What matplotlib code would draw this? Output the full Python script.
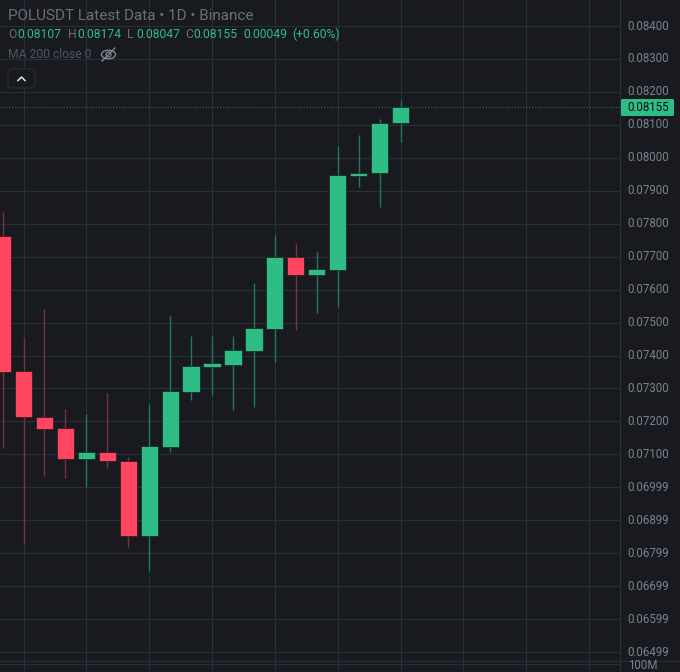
import matplotlib
matplotlib.use('Agg')
import matplotlib.pyplot as plt
from matplotlib.patches import Ellipse, FancyBboxPatch

plt.rcParams['font.family'] = ['Roboto', 'DejaVu Sans']

opens = [0.07763, 0.07353, 0.07213, 0.07180, 0.07086, 0.07107, 0.07080, 0.06852, 0.07122, 0.07289,
         0.07365, 0.07371, 0.07414, 0.07480, 0.07699, 0.07644, 0.07660, 0.07945, 0.07954, 0.08107]
highs = [0.07836, 0.07456, 0.07541, 0.07238, 0.07223, 0.07286, 0.07092, 0.07253, 0.07520, 0.07459,
         0.07459, 0.07459, 0.07620, 0.07766, 0.07741, 0.07714, 0.08036, 0.08069, 0.08118, 0.08174]
lows = [0.07119, 0.06828, 0.07034, 0.07028, 0.07001, 0.07059, 0.06819, 0.06746, 0.07107, 0.07265,
        0.07280, 0.07235, 0.07244, 0.07380, 0.07477, 0.07529, 0.07547, 0.07911, 0.07851, 0.08047]
closes = [0.07350, 0.07213, 0.07177, 0.07086, 0.07107, 0.07080, 0.06852, 0.07125, 0.07292, 0.07368,
          0.07377, 0.07417, 0.07484, 0.07699, 0.07644, 0.07663, 0.07948, 0.07954, 0.08106, 0.08155]

price_ticks = [0.084, 0.083, 0.082, 0.081, 0.080, 0.079, 0.078, 0.077, 0.076, 0.075,
               0.074, 0.073, 0.072, 0.071, 0.070, 0.069, 0.068, 0.067, 0.066, 0.065]
price_labels = ['0.08400', '0.08300', '0.08200', '0.08100', '0.08000', '0.07900', '0.07800',
                '0.07700', '0.07600', '0.07500', '0.07400', '0.07300', '0.07200', '0.07100',
                '0.06999', '0.06899', '0.06799', '0.06699', '0.06599', '0.06499']
last_price = 0.08155

BG = '#181a20'
GRID = '#2a2e37'
GREEN = '#2ebd85'
RED = '#ff4560'
GREEN_WICK = '#1f7a5c'
RED_WICK = '#7c2f40'
AXIS_TEXT = '#7c818c'

fig = plt.figure(figsize=(6.8, 6.72), dpi=100, facecolor=BG)
ax = fig.add_axes([0, 0, 620 / 680, 1], facecolor=BG)
ax.set_xlim(-0.124, 29.48)
ax.set_ylim(0.064395, 0.084789)

#grid
ax.set_yticks(price_ticks)
ax.set_yticklabels([])
ax.set_xticks(range(1, 29, 3))
ax.set_xticklabels([])
ax.tick_params(length=0)
ax.grid(True, color=GRID, linewidth=0.8)
ax.set_axisbelow(True)
for s in ax.spines.values():
    s.set_visible(False)

#candles
for i in range(len(opens)):
    up = closes[i] >= opens[i]
    ax.vlines(i, lows[i], highs[i], color=GREEN_WICK if up else RED_WICK, linewidth=1.0, zorder=2)
    ax.bar(i, abs(closes[i] - opens[i]), bottom=min(opens[i], closes[i]), width=0.82,
           color=GREEN if up else RED, edgecolor='#101216', linewidth=0.4, zorder=3)

ax.axhline(last_price, color=GREEN_WICK, linewidth=0.8, linestyle=(0, (1, 1.6)), zorder=1)

#overlay in pixels for axis labels and the header
ov = fig.add_axes([0, 0, 1, 1], facecolor='none')
ov.set_xlim(0, 680)
ov.set_ylim(672, 0)
ov.axis('off')

ov.plot([620, 620], [0, 672], color=GRID, linewidth=0.8)
ov.plot([0, 680], [660.5, 660.5], color='#2a2d35', linewidth=0.8)
ov.plot([0, 620], [664, 664], color=GRID, linewidth=0.7)

for p, lab in zip(price_ticks, price_labels):
    y = 26 + (0.084 - p) * 32950
    ov.text(627.5, y, lab, color=AXIS_TEXT, fontsize=8.3, va='center', ha='left')
ov.text(628, 665.5, '100M', color=AXIS_TEXT, fontsize=8.3, va='center', ha='left')

#last price tag
ov.add_patch(FancyBboxPatch((621, 99), 53, 17, boxstyle='round,pad=0,rounding_size=1.5',
                            facecolor=GREEN, edgecolor='none', zorder=5))
ov.text(627.5, 107.5, '0.08155', color='#0b0e11', fontsize=8.3, va='center', ha='left', zorder=6)

#header
ov.text(8, 15.5, 'POLUSDT Latest Data • 1D • Binance', color='#6a6f7a', fontsize=10.95, va='center')
header_parts = [(8, 'O', '#6a6f7a'), (17.7, '0.08107', GREEN), (68, 'H', '#6a6f7a'), (77, '0.08174', GREEN),
                (127.5, 'L', '#6a6f7a'), (136, '0.08047', GREEN), (185, 'C', '#6a6f7a'), (193.5, '0.08155', GREEN),
                (243.7, '0.00049', GREEN), (292, '(+0.60%)', GREEN)]
for x, s, c in header_parts:
    ov.text(x, 34.5, s, color=c, fontsize=8.7, va='center')
ov.text(8, 54.5, 'MA 200 close 0', color='#50545c', fontsize=8.7, va='center')

#hidden eye icon
ov.add_patch(Ellipse((108.5, 54.5), 14, 8.5, facecolor='none', edgecolor='#8a8e96', linewidth=0.9))
ov.add_patch(Ellipse((108.5, 54.5), 5, 5, facecolor='none', edgecolor='#8a8e96', linewidth=0.8))
ov.plot([102, 115], [61, 48], color='#8a8e96', linewidth=0.9)

#collapse button
ov.add_patch(FancyBboxPatch((8, 69), 27, 19, boxstyle='round,pad=0,rounding_size=3',
                            facecolor=BG, edgecolor='#2c2f37', linewidth=0.8))
ov.plot([18, 21.5, 25], [80.5, 77, 80.5], color='#e4e6ea', linewidth=1.1)

fig.savefig('out.png', dpi=100, facecolor=BG)
